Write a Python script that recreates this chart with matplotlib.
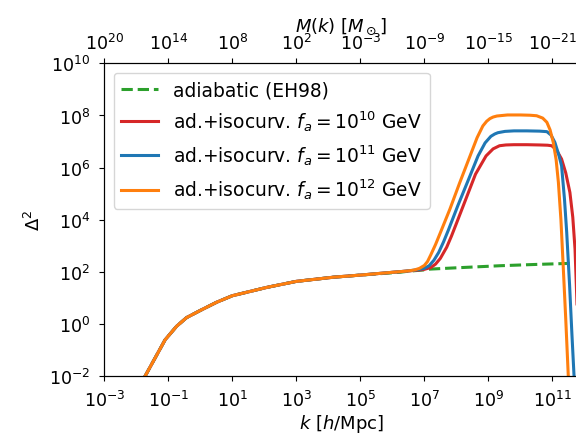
import numpy as np
import matplotlib
matplotlib.use("Agg")
import matplotlib.pyplot as plt

plt.rcParams['font.size'] = 13
plt.rcParams['xtick.labelsize'] = 12.6
plt.rcParams['ytick.labelsize'] = 12.6
plt.rcParams['xtick.major.pad'] = 6.5
plt.rcParams['ytick.major.pad'] = 6.5
plt.rcParams['mathtext.fontset'] = 'dejavusans'

# adiabatic (EH98) curve: log10 k, log10 Delta^2
logk_ad = [-2.0, -1.706, -1.10, -0.74, -0.43, -0.01, 0.51, 1.0, 2.08, 3.0,
           4.16, 4.99, 6.24, 6.5, 7.0, 7.18, 8.0, 9.37, 10.5, 11.55]
logd_ad = [-2.6, -1.95, -0.60, -0.08, 0.25, 0.52, 0.84, 1.09, 1.41, 1.64,
           1.80, 1.88, 1.99, 2.03, 2.08, 2.11, 2.16, 2.24, 2.29, 2.33]
n_shared = 13  # isocurvature curves follow adiabatic up to here

# tails of the ad.+isocurv. curves
logk_f12 = [6.5, 6.7, 6.85, 7.0, 7.1, 7.2, 7.35, 7.5, 7.8, 8.1, 8.43, 8.65,
            8.83, 8.95, 9.05, 9.15, 9.27, 9.6, 10.0, 10.3, 10.51, 10.7, 10.83,
            10.93, 11.03, 11.12, 11.19, 11.27, 11.34, 11.42, 11.50, 11.6]
logd_f12 = [2.04, 2.08, 2.14, 2.25, 2.4, 2.65, 3.05, 3.5, 4.41, 5.4, 6.45, 7.15,
            7.6, 7.78, 7.88, 7.94, 7.98, 8.02, 8.02, 8.01, 7.99, 7.9, 7.74,
            7.45, 6.97, 6.3, 5.44, 4.0, 2.24, 0.2, -2.0, -5.0]

logk_f11 = [6.5, 6.8, 7.0, 7.15, 7.3, 7.45, 7.6, 7.75, 8.05, 8.35, 8.68, 8.9,
            9.08, 9.2, 9.3, 9.52, 9.8, 10.2, 10.6, 10.83, 10.96, 11.08, 11.2,
            11.29, 11.38, 11.45, 11.54, 11.61, 11.68, 11.78]
logd_f11 = [2.04, 2.09, 2.14, 2.24, 2.45, 2.75, 3.15, 3.6, 4.55, 5.45, 6.45,
            6.95, 7.2, 7.29, 7.34, 7.39, 7.41, 7.41, 7.40, 7.38, 7.25, 6.97,
            6.5, 6.07, 4.8, 3.52, 1.5, -0.31, -2.0, -5.0]

logk_f10 = [6.5, 6.8, 7.0, 7.2, 7.35, 7.5, 7.7, 7.85, 8.0, 8.3, 8.6, 8.93, 9.15,
            9.35, 9.55, 9.8, 10.2, 10.6, 10.85, 10.98, 11.12, 11.29, 11.42,
            11.55, 11.64, 11.71, 11.78, 11.86]
logd_f10 = [2.04, 2.07, 2.1, 2.17, 2.3, 2.52, 2.95, 3.38, 3.85, 4.8, 5.75, 6.45,
            6.72, 6.84, 6.87, 6.88, 6.88, 6.87, 6.86, 6.84, 6.7, 6.33, 5.8,
            5.05, 4.1, 2.88, 0.5, -3.0]

k_ad = 10.0 ** np.array(logk_ad)
d_ad = 10.0 ** np.array(logd_ad)


def iso_curve(logk_tail, logd_tail):
    lk = np.array(logk_ad[:n_shared - 1] + logk_tail)
    ld = np.array(logd_ad[:n_shared - 1] + logd_tail)
    return 10.0 ** lk, 10.0 ** ld


# mass scale for the top axis: M = 4/3 pi rho_m k^-3
rho_m = 2.775e11 * 0.31
xticks = [1e-3, 1e-1, 1e1, 1e3, 1e5, 1e7, 1e9, 1e11]
m_exp = [int(np.log10(4.0 / 3.0 * np.pi * rho_m * k ** -3)) for k in xticks]
m_labels = ['$10^{%d}$' % e for e in m_exp]

fig = plt.figure(figsize=(5.76, 4.39), dpi=100)
ax = fig.add_axes([0.1811, 0.1405, 0.8222, 0.7130])

ax.plot(k_ad, d_ad, ls='--', color='tab:green', lw=2.2, label='adiabatic (EH98)')
k, d = iso_curve(logk_f10, logd_f10)
ax.plot(k, d, color='tab:red', lw=2.2, label='ad.+isocurv. $f_a=10^{10}$ GeV')
k, d = iso_curve(logk_f11, logd_f11)
ax.plot(k, d, color='tab:blue', lw=2.2, label='ad.+isocurv. $f_a=10^{11}$ GeV')
k, d = iso_curve(logk_f12, logd_f12)
ax.plot(k, d, color='tab:orange', lw=2.2, label='ad.+isocurv. $f_a=10^{12}$ GeV')

ax.set_xscale('log')
ax.set_yscale('log')
ax.set_xlim(1e-3, 10 ** 11.8)
ax.set_ylim(1e-2, 1e10)
ax.set_xticks(xticks)
ax.set_yticks([1e-2, 1e0, 1e2, 1e4, 1e6, 1e8, 1e10])
ax.minorticks_off()
ax.set_xlabel('$k$ [$h$/Mpc]', labelpad=1)
ax.set_ylabel('$\\Delta^2$')
ax.legend(loc='upper left', fontsize=13.4)

ax2 = ax.twiny()
ax2.set_xscale('log')
ax2.set_xlim(ax.get_xlim())
ax2.set_xticks(xticks)
ax2.set_xticklabels(m_labels)
ax2.minorticks_off()
ax2.tick_params(axis='x', pad=4)
ax2.set_xlabel('$M(k)$ [$M_\\odot$]', labelpad=1)

fig.savefig('out.png', dpi=100)
